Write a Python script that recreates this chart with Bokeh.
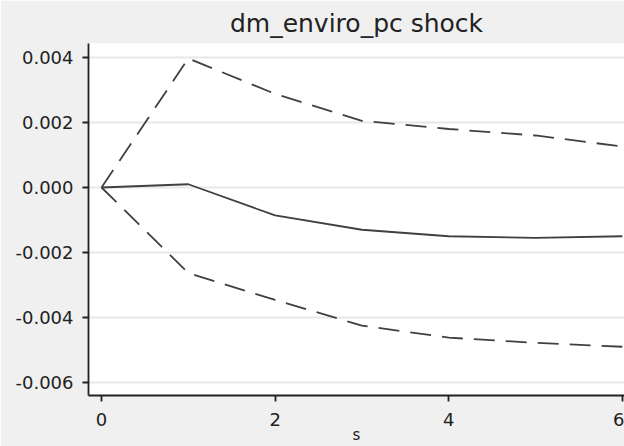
from bokeh.plotting import figure
from bokeh.models import Range1d, FixedTicker, Title, NumeralTickFormatter
from bokeh.embed import file_html
from bokeh.resources import INLINE

# impulse response of dm_enviro_pc shock, with lower/upper bands
steps = [0, 1, 2, 3, 4, 5, 6]
response = [0.0, 0.0001, -0.00086, -0.0013, -0.0015, -0.00155, -0.0015]
upper_band = [0.0, 0.00397, 0.00288, 0.00205, 0.0018, 0.0016, 0.00126]
lower_band = [0.0, -0.00263, -0.00346, -0.00425, -0.00462, -0.00478, -0.0049]

x_ticks = [0, 2, 4, 6]
y_ticks = [-0.006, -0.004, -0.002, 0.0, 0.002, 0.004]

FONT = "DejaVu Sans"
INK = "#222222"

p = figure(width=624, height=446, output_backend="svg", toolbar_location=None,
           x_range=Range1d(-0.15, 6.025), y_range=Range1d(-0.0064, 0.00443),
           min_border_left=88, min_border_right=0, min_border_top=43,
           min_border_bottom=50)

p.background_fill_color = "white"
p.border_fill_color = "#f0f0f0"
p.outline_line_color = None

p.title = None
p.add_layout(Title(text="dm_enviro_pc shock", align="center",
                   text_font=FONT, text_font_size="25px",
                   text_font_style="normal", text_color=INK,
                   standoff=11), "above")

line_col = "#404040"
p.line(steps, response, line_color=line_col, line_width=1.8)
p.line(steps, upper_band, line_color=line_col, line_width=1.8, line_dash="21 11")
p.line(steps, lower_band, line_color=line_col, line_width=1.8, line_dash="21 11")

for ax in (p.xaxis, p.yaxis):
    ax.axis_line_color = INK
    ax.axis_line_width = 1.8
    ax.major_tick_line_color = INK
    ax.major_tick_line_width = 1.8
    ax.major_tick_out = 6
    ax.major_tick_in = 0
    ax.minor_tick_line_color = None
    ax.major_label_text_font = FONT
    ax.major_label_text_font_size = "18px"
    ax.major_label_text_color = INK

p.xaxis.ticker = FixedTicker(ticks=x_ticks)
p.yaxis.ticker = FixedTicker(ticks=y_ticks)
p.yaxis.formatter = NumeralTickFormatter(format="0.000")
p.yaxis.major_label_standoff = 9
p.xaxis.major_label_standoff = 11

p.xaxis.axis_label = "s"
p.xaxis.axis_label_text_font = FONT
p.xaxis.axis_label_text_font_size = "15px"
p.xaxis.axis_label_text_font_style = "normal"
p.xaxis.axis_label_text_color = INK
p.xaxis.axis_label_standoff = -3

p.xgrid.grid_line_color = None
p.ygrid.grid_line_color = "#e8e8e8"
p.ygrid.grid_line_width = 2

open("out.html", "w").write(file_html(p, INLINE))
